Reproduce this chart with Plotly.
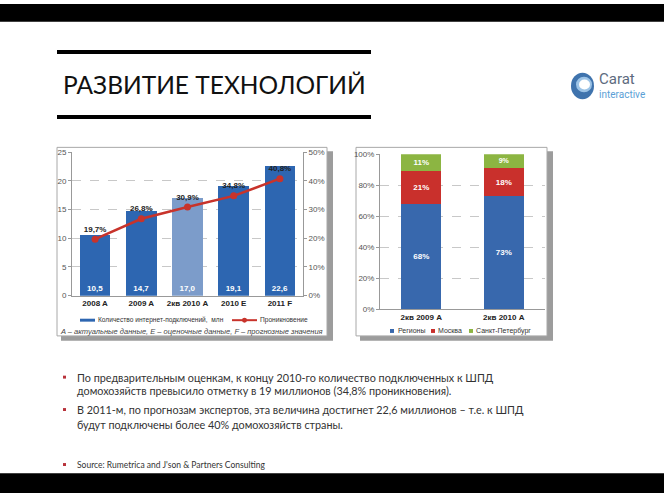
import plotly.graph_objects as go

W, H = 664, 498
def px(x): return x / W
def py(y): return 1 - y / H

# ---------------- data ----------------
years = ["2008 A", "2009 A", "2кв 2010 A", "2010 E", "2011 F"]
connections = [10.5, 14.7, 17.0, 19.1, 22.6]          # млн
penetration = [19.7, 26.8, 30.9, 34.8, 40.8]          # %
periods = ["2кв 2009 A", "2кв 2010 A"]
regions = [68, 73]
moscow = [21, 18]
spb = [11, 9]

bar_colors = ["#2d66b1", "#2d66b1", "#7c9cca", "#2d66b1", "#2d66b1"]
LINE_COL = "#c8332b"
seg_colors = ["#3868ad", "#c9302c", "#8cb542"]
FONT = "Liberation Sans"

def fmt(v, suffix=""):
    return f"{v:.1f}".replace(".", ",") + suffix

fig = go.Figure()

fig.add_trace(go.Bar(
    x=years, y=connections, xaxis="x", yaxis="y", width=0.66,
    marker=dict(color=bar_colors, line=dict(width=0)),
    text=[fmt(v) for v in connections], texttemplate="<b>%{text}</b>",
    textposition="inside", insidetextanchor="start", textangle=0,
    textfont=dict(color="white", size=8, family=FONT),
    name="Количество интернет-подключений,  млн", showlegend=False,
))
fig.add_trace(go.Scatter(
    x=years, y=penetration, xaxis="x", yaxis="y2",
    mode="lines+markers+text",
    line=dict(color=LINE_COL, width=2.5),
    marker=dict(color=LINE_COL, size=7, symbol="circle"),
    text=[fmt(v, "%") for v in penetration], texttemplate="<b>%{text}</b>",
    textposition="top center", textfont=dict(color="#222", size=8, family=FONT),
    name="Проникновение", showlegend=False,
))

seg_names = ["Регионы", "Москва", "Санкт-Петербург"]
for name, vals, col in zip(seg_names, [regions, moscow, spb], seg_colors):
    fig.add_trace(go.Bar(
        x=periods, y=vals, xaxis="x2", yaxis="y3", width=0.48,
        marker=dict(color=col, line=dict(width=0)),
        text=[f"{v}%" for v in vals], texttemplate="<b>%{text}</b>",
        textposition="inside", insidetextanchor="middle", textangle=0,
        textfont=dict(color="white", size=8, family=FONT),
        name=name, showlegend=False,
    ))

tickf = dict(size=8, color="#555", family=FONT)
catf = dict(size=8, color="#222", family=FONT, weight="bold")
grid = dict(showgrid=True, gridcolor="#c8c8c8", griddash="dash", gridwidth=1)

P = dict(xref="paper", yref="paper")
shapes = []
def rect(x0, x1, y0, y1, fill, line=None, layer="above"):
    shapes.append(dict(type="rect", **P, x0=px(x0), x1=px(x1), y0=py(y1), y1=py(y0),
                       fillcolor=fill, line=line or dict(width=0), layer=layer))

# top / bottom black bands
rect(0, W, 0, 18, "black", layer="below")
rect(0, W, 478, H, "black", layer="below")
# title rules
for yy in (49, 115):
    shapes.append(dict(type="line", **P, x0=px(57), x1=px(371),
                       y0=py(yy), y1=py(yy), line=dict(color="black", width=4)))
# chart frames with shadows
for (x0, x1, y0, y1) in [(57, 327, 146, 338), (356, 547, 146, 338)]:
    rect(x0 + 4, x1 + 6, y0 + 4, y1 + 5, "#9c9c9c", layer="below")
    rect(x0, x1, y0, y1, "white", dict(color="#a8a8a8", width=1), layer="below")
# bullets
for yy in (380, 413, 469):
    rect(63, 66, yy - 1.5, yy + 1.5, "#b8323a")
# logo globe
shapes.append(dict(type="circle", **P, x0=px(571), x1=px(594), y0=py(97), y1=py(70),
                   fillcolor="#3f73ad", line=dict(width=0)))
shapes.append(dict(type="circle", **P, x0=px(576), x1=px(592), y0=py(90), y1=py(74),
                   fillcolor="#9cc3e6", line=dict(width=0)))
shapes.append(dict(type="circle", **P, x0=px(579), x1=px(590), y0=py(87), y1=py(77),
                   fillcolor="white", line=dict(width=0)))

# legend keys (left chart)
rect(80, 95, 320.5, 323.5, bar_colors[0])
shapes.append(dict(type="line", **P, x0=px(232), x1=px(257), y0=py(322), y1=py(322),
                   line=dict(color=LINE_COL, width=2)))
shapes.append(dict(type="circle", **P, x0=px(242), x1=px(247), y0=py(324.5), y1=py(319.5),
                   fillcolor=LINE_COL, line=dict(width=0)))
# legend keys (right chart)
for xk, col in zip((390, 431, 469), seg_colors):
    rect(xk, xk + 4, 331, 335, col)

ann = []
def add_text(text, x, y, size, color, family, anchor="left", **kw):
    ann.append(dict(text=text, **P, x=px(x), y=py(y), xanchor=anchor, yanchor="middle",
                    showarrow=False, font=dict(size=size, color=color, family=family, **kw)))

add_text("РАЗВИТИЕ ТЕХНОЛОГИЙ", 61, 82, 24.5, "#111", "Lato")
add_text("Carat", 597, 76, 15, "#5d6b7e", "Roboto")
add_text("interactive", 597, 92, 10, "#5b9fd6", "Roboto")
add_text("Количество интернет-подключений,  млн", 96, 322, 6.6, "#333", FONT)
add_text("Проникновение", 258, 322, 6.6, "#333", FONT)
for xk, name in zip((396, 436, 474), seg_names):
    add_text(name, xk, 333, 7, "#333", FONT)
add_text("A – актуальные данные, E – оценочные данные, F – прогнозные значения",
         191, 333.5, 7.5, "#444", FONT, anchor="center", style="italic")
body = [
    (380, "По предварительным оценкам, к концу 2010-го количество подключенных к ШПД"),
    (394, "домохозяйств превысило отметку в 19 миллионов (34,8% проникновения)."),
    (413, "В 2011-м, по прогнозам экспертов, эта величина достигнет 22,6 миллионов – т.е. к ШПД"),
    (428, "будут подключены более 40% домохозяйств страны."),
]
for yy, t in body:
    add_text(t, 75, yy, 10.8, "#333", "Lato")
add_text("Source: Rumetrica and J'son & Partners Consulting", 75, 469, 8.5, "#333", "Lato")

fig.update_layout(
    width=W, height=H, margin=dict(l=0, r=0, t=0, b=0),
    paper_bgcolor="white", plot_bgcolor="rgba(0,0,0,0)",
    barmode="stack", showlegend=False,
    xaxis=dict(domain=[px(72), px(303)], anchor="y", tickfont=catf, showline=True,
               linecolor="#999", ticks="", showgrid=False, tickangle=0),
    yaxis=dict(domain=[py(297), py(151)], range=[0, 25], dtick=5, tickfont=tickf,
               showline=True, linecolor="#999", ticks="outside", ticklen=3, tickcolor="#999",
               zeroline=False, **grid),
    yaxis2=dict(overlaying="y", side="right", anchor="x", range=[0, 50], dtick=10,
                ticksuffix="%", tickfont=tickf, showline=True, linecolor="#999",
                ticks="outside", ticklen=3, tickcolor="#999", showgrid=False, zeroline=False),
    xaxis2=dict(domain=[px(380), px(545)], anchor="y3", tickfont=catf, showline=True,
                linecolor="#999", ticks="", showgrid=False, tickangle=0),
    yaxis3=dict(domain=[py(311), py(153)], anchor="x2", range=[0, 100], dtick=20,
                ticksuffix="%", tickfont=tickf, showline=True, linecolor="#999",
                ticks="outside", ticklen=3, tickcolor="#999", zeroline=False, **grid),
    shapes=shapes, annotations=ann,
)

fig.write_html("out.html")
